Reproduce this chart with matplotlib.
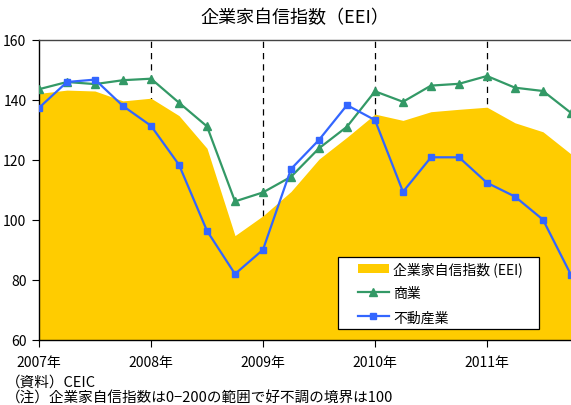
import numpy as np
import matplotlib
matplotlib.use("Agg")
import matplotlib.pyplot as plt
from matplotlib.patches import Rectangle

plt.rcParams['font.family'] = ['Noto Sans CJK JP', 'DejaVu Sans']

# quarterly, 2007Q1 .. 2011Q4
quarters = list(range(20))
year_ticks = [0, 4, 8, 12, 16]
year_labels = ["2007年", "2008年", "2009年", "2010年", "2011年"]

eei = [142.2, 143.3, 143.0, 139.7, 140.6, 134.8, 123.9, 94.8, 101.4, 109.5,
       120.3, 127.6, 135.3, 133.2, 136.1, 136.9, 137.6, 132.4, 129.4, 122.0]
commerce = [143.6, 146.0, 145.3, 146.6, 147.1, 139.1, 131.2, 106.2, 109.2, 114.4,
            123.9, 131.1, 142.9, 139.4, 144.8, 145.4, 148.0, 144.1, 143.0, 135.7]
realestate = [137.4, 146.0, 146.8, 138.0, 131.4, 118.4, 96.4, 82.0, 90.1, 117.0,
              126.7, 138.3, 133.3, 109.4, 120.9, 120.9, 112.4, 107.8, 100.1, 81.7]

YELLOW = "#FFCC00"
GREEN = "#339966"
BLUE = "#3366FF"

fig = plt.figure(figsize=(5.71, 4.06), dpi=100)
ax = fig.add_axes([39 / 571, 65 / 406, 532 / 571, 300 / 406])

for t in year_ticks[1:]:
    ax.axvline(t, color="k", ls=(0, (5, 4)), lw=0.9, zorder=0)

ax.fill_between(quarters, 60, eei, color=YELLOW, lw=0, zorder=1,
                label="企業家自信指数 (EEI)")
ax.plot(quarters, commerce, color=GREEN, marker="^", ms=5.5, lw=1.6, zorder=3,
        label="商業")
ax.plot(quarters, realestate, color=BLUE, marker="s", ms=5, lw=1.6, zorder=4,
        label="不動産業")

ax.set_xlim(0, 19)
ax.set_ylim(60, 160)
ax.set_yticks([60, 80, 100, 120, 140, 160])
ax.set_xticks(year_ticks)
ax.set_xticklabels(year_labels)
ax.tick_params(labelsize=10, direction="out", length=5, width=0.8, pad=4)
ax.tick_params(axis="x", pad=6)
ax.spines["right"].set_visible(False)
for s in ["left", "bottom", "top"]:
    ax.spines[s].set_linewidth(1.0)
ax.spines["top"].set_color("#444444")

# legend frame drawn separately so the entries can sit inside it freely
ax.add_patch(Rectangle((0.562, 0.037), 0.378, 0.24, transform=ax.transAxes,
                       facecolor="white", edgecolor="k", lw=0.9, zorder=5))
leg = ax.legend(loc="upper left", bbox_to_anchor=(0.600, 0.262),
                fontsize=10, frameon=False, handlelength=2.2,
                labelspacing=0.72, borderpad=0, handletextpad=0.3,
                borderaxespad=0)
leg.set_zorder(6)

fig.text(0.517, 1 - 18 / 406, "企業家自信指数（EEI）", ha="center", va="center",
         fontsize=13)
fig.text(6 / 571, 1 - 383 / 406, "（資料）CEIC", ha="left", va="center",
         fontsize=10.5)
fig.text(6 / 571, 1 - 399 / 406, "（注）企業家自信指数は0−200の範囲で好不調の境界は100",
         ha="left", va="center", fontsize=10.5)

fig.savefig("out.png", dpi=100)
